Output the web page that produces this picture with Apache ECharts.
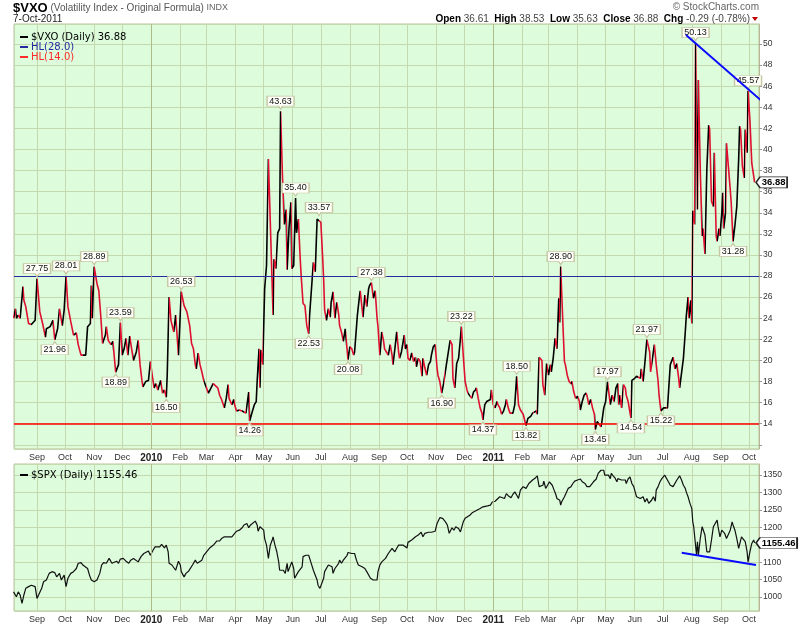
<!DOCTYPE html>
<html><head><meta charset="utf-8">
<script src="https://cdn.jsdelivr.net/npm/echarts@6/dist/echarts.min.js"></script>
<style>html,body{margin:0;padding:0;background:#fff}#c{width:800px;height:625px}</style>
</head><body><div id="c"></div>
<script>
// x values are days counted from 2009-09-01
const vxoDays = [-25,-23,-22,-20,-18,-15,-14,-12,-9,-6,-2,0,3,6,9,10,14,17,19,22,24,27,29,31,33,36,39,42,44,47,49,52,54,57,58,59,61,64,66,68,70,73,74,76,79,81,84,87,89,91,93,95,97,99,101,103,106,108,110,112,113,116,119,121,123,125,127,129,132,134,136,138,139,141,143,146,148,151,153,154,157,160,163,165,167,169,170,172,174,176,178,180,183,185,188,190,193,195,197,200,202,204,205,208,210,211,213,216,219,221,223,226,227,230,232,234,235,237,238,239,241,243,245,247,252,253,255,257,259,260,262,264,266,267,269,271,272,274,276,277,279,281,282,284,286,288,290,291,293,295,297,299,301,303,305,306,307,309,311,313,314,316,318,320,322,323,325,327,329,330,332,334,336,338,339,342,344,345,348,350,352,354,355,357,359,361,363,364,366,368,370,371,373,375,377,379,380,382,384,386,387,389,392,393,395,396,398,400,402,404,405,407,409,411,412,414,416,418,420,421,423,425,427,428,430,432,434,436,437,439,441,443,444,446,448,450,452,453,455,457,459,460,462,464,466,468,469,471,473,475,476,478,480,482,484,485,487,489,491,492,494,496,498,500,501,503,505,507,508,510,512,514,516,517,519,522,524,527,529,531,533,534,536,539,540,542,544,546,548,549,551,553,555,557,558,559,561,563,564,566,568,570,571,573,575,577,579,580,582,584,586,587,589,591,593,595,596,598,600,602,603,605,607,609,611,612,614,616,618,620,621,622,624,626,628,629,631,634,635,638,640,642,644,645,647,649,651,654,655,657,659,661,663,664,666,669,671,673,676,677,679,681,683,685,686,688,690,692,693,695,696,698,699,700,702,703,705,706,708,710,711,713,715,717,718,720,722,723,725,726,728,729,731,732,733,735,736,738,740,741,743,745,747,749,750,751,753,755,756,758,759,761,763,765,766];
const vxoVals = [24.0,24.9,24.0,24.3,24.0,27.0,25.7,25.1,23.5,23.4,23.8,27.75,24.6,23.5,22.2,23.0,23.2,23.8,21.96,23.0,24.9,23.3,24.8,28.01,25.1,23.7,22.4,22.6,21.5,20.5,20.4,20.5,23.2,23.5,27.1,24.0,28.89,27.3,26.6,24.3,21.6,22.4,23.2,21.9,21.5,21.8,18.89,19.6,23.59,20.5,21.1,22.1,20.5,22.3,21.1,20.0,20.8,21.9,19.6,18.1,17.5,18.0,18.1,19.9,18.6,17.4,17.8,17.2,18.1,16.9,17.2,16.50,18.6,26.0,23.8,22.7,24.3,20.5,20.6,26.53,25.2,24.6,23.3,21.6,21.1,19.6,19.2,20.7,19.6,18.9,18.1,18.1,16.9,17.0,17.8,17.7,17.4,16.7,16.3,15.5,16.4,17.7,16.4,15.8,16.3,15.8,15.2,15.3,15.2,15.3,15.0,17.0,14.26,15.2,15.8,16.1,18.0,21.1,17.4,21.0,19.6,26.8,29.0,39.1,24.3,29.6,28.7,32.1,32.5,43.63,37.5,32.9,34.3,28.6,32.5,35.0,28.7,29.0,35.40,32.1,33.4,29.6,28.0,25.4,25.2,23.3,22.53,24.3,26.8,29.3,28.4,33.4,33.57,33.1,29.6,27.7,24.8,23.8,24.9,24.1,25.5,26.5,24.0,25.5,24.4,23.3,22.7,21.8,23.0,23.1,20.08,21.3,21.1,20.5,20.8,24.3,25.9,26.6,24.1,26.2,25.1,26.8,27.1,27.38,25.9,26.6,24.0,23.2,20.5,22.7,21.8,21.1,20.8,20.5,21.5,20.5,19.6,21.1,22.7,20.8,20.2,20.8,22.4,21.1,21.5,20.2,20.0,20.7,19.9,20.3,19.4,20.2,19.9,18.5,20.2,19.3,18.6,19.6,19.9,20.5,21.3,21.5,19.3,18.6,18.0,16.90,17.8,17.7,19.6,19.7,21.9,21.5,18.3,17.4,19.7,20.2,22.1,23.22,20.5,18.0,17.2,16.9,17.0,16.4,17.0,17.2,17.4,16.4,15.5,15.0,14.37,15.8,16.1,16.1,16.3,17.2,15.8,15.5,16.1,15.8,15.5,14.9,15.2,15.8,16.3,15.5,15.0,14.9,15.0,15.8,18.50,15.8,15.3,15.2,14.9,13.82,14.5,14.7,15.0,14.9,15.2,14.9,20.3,20.0,17.7,16.7,19.7,18.6,19.6,18.9,20.2,22.1,21.1,25.9,23.6,28.90,24.3,19.9,19.6,18.6,18.0,17.8,18.0,17.0,16.4,16.6,16.1,15.3,16.1,16.7,16.9,16.7,15.8,16.3,15.5,14.9,13.45,14.2,14.2,13.7,14.2,15.5,16.1,17.97,17.8,15.8,16.7,16.1,17.4,17.8,15.8,16.7,15.5,17.7,17.4,16.7,16.1,14.54,18.1,18.3,18.5,18.6,18.3,19.2,18.0,19.9,21.97,20.8,18.9,18.8,21.5,19.6,18.0,16.7,15.22,15.5,15.6,15.5,19.6,19.7,20.3,19.2,19.7,18.3,17.4,17.5,20.2,22.7,24.1,26.0,24.0,25.7,23.5,34.2,32.9,50.13,34.3,46.6,38.1,31.8,32.5,30.1,38.1,42.3,41.9,35.1,34.6,39.7,31.8,31.3,32.5,31.8,34.0,35.9,32.5,34.0,40.6,38.4,36.2,35.0,31.28,32.8,34.6,39.1,42.2,41.9,38.4,37.3,41.9,39.7,45.57,42.8,38.7,37.5,36.88];

const spxDays = [-25,-22,-20,-18,-16,-14,-12,-9,-6,-2,0,2,5,7,10,13,16,19,21,24,26,29,31,33,36,39,42,44,47,49,51,54,56,58,61,64,67,69,71,74,77,80,82,85,87,89,92,95,98,100,103,105,108,111,114,116,119,121,124,126,128,131,133,136,138,140,141,144,146,148,151,153,154,157,159,162,164,166,169,171,173,176,178,181,184,186,189,192,195,197,200,203,205,208,210,213,216,219,221,224,226,228,230,233,235,236,238,240,242,243,245,247,249,251,252,254,256,258,259,261,263,265,267,268,270,272,274,275,277,279,281,283,284,287,290,292,295,297,299,300,302,304,306,307,309,311,313,315,316,318,320,322,323,325,327,329,331,332,334,336,338,339,341,343,345,347,348,350,352,354,356,357,359,361,363,364,366,368,370,372,373,375,377,379,380,382,384,386,388,391,395,396,400,404,407,410,412,414,418,421,425,427,430,433,436,438,440,443,445,447,450,452,453,455,457,459,462,465,468,470,473,476,478,481,484,486,489,491,494,496,499,501,503,506,508,510,512,514,516,519,522,525,527,529,532,534,536,538,540,541,543,545,547,548,550,552,554,555,558,559,560,563,565,567,570,572,574,577,580,582,585,587,590,592,594,597,599,602,605,606,608,610,612,613,615,617,619,620,622,624,626,628,629,631,633,635,637,638,640,642,644,645,647,649,651,653,654,656,658,660,661,663,665,667,669,670,672,674,676,677,679,681,683,685,686,688,690,692,693,695,697,699,700,701,703,704,705,706,708,710,711,713,715,717,718,720,722,724,726,727,729,731,733,734,736,738,740,742,743,745,747,749,750,752,754,756,758,759,761,763,765,766];
const spxVals = [1015,1001,1015,1006,982,1006,1025,1030,1034,1030,996,1001,1025,1044,1049,1068,1073,1070,1058,1068,1049,1063,1030,1054,1068,1073,1082,1097,1099,1092,1097,1082,1063,1049,1044,1049,1068,1092,1099,1097,1111,1097,1101,1103,1097,1109,1111,1103,1097,1106,1111,1116,1101,1116,1125,1125,1132,1120,1135,1144,1147,1144,1151,1141,1149,1130,1097,1092,1097,1077,1103,1092,1073,1058,1068,1075,1077,1092,1106,1097,1101,1106,1120,1130,1140,1144,1151,1161,1161,1168,1173,1173,1178,1173,1178,1189,1192,1199,1207,1211,1199,1207,1211,1218,1207,1189,1202,1197,1192,1168,1149,1111,1149,1163,1173,1149,1130,1101,1077,1073,1077,1068,1097,1073,1077,1101,1082,1054,1058,1073,1077,1087,1116,1120,1120,1103,1077,1082,1049,1034,1025,1030,1054,1073,1077,1092,1097,1087,1068,1082,1077,1097,1106,1097,1106,1111,1120,1128,1125,1125,1127,1125,1106,1092,1087,1087,1092,1082,1073,1068,1054,1052,1049,1054,1049,1073,1092,1101,1099,1111,1116,1125,1130,1140,1135,1130,1140,1149,1147,1149,1141,1157,1164,1173,1178,1186,1173,1183,1186,1186,1189,1211,1228,1226,1216,1207,1183,1199,1192,1202,1197,1187,1183,1216,1226,1226,1235,1243,1247,1243,1254,1259,1259,1262,1264,1273,1275,1273,1288,1293,1283,1297,1291,1285,1295,1302,1293,1283,1307,1317,1312,1326,1331,1336,1342,1348,1317,1312,1321,1333,1312,1321,1331,1326,1321,1307,1293,1283,1278,1264,1273,1288,1293,1312,1317,1326,1333,1336,1339,1331,1326,1317,1317,1312,1331,1339,1355,1364,1364,1350,1345,1350,1340,1355,1348,1342,1331,1340,1339,1336,1331,1336,1326,1339,1345,1326,1317,1307,1288,1285,1283,1278,1288,1273,1283,1269,1273,1278,1288,1275,1307,1317,1331,1340,1340,1350,1355,1331,1321,1317,1317,1312,1336,1340,1348,1336,1321,1312,1302,1288,1269,1254,1216,1202,1197,1121,1159,1121,1168,1202,1197,1178,1130,1125,1130,1164,1202,1207,1221,1202,1173,1192,1197,1183,1168,1168,1192,1216,1207,1192,1168,1140,1144,1173,1168,1159,1130,1101,1130,1154,1164,1155.46];

// annotated highs / lows (days) on the VXO line
const vxoPeakDays = [0,31,61,89,154,260,276,301,357,453,512,559,609,651,703,759];
const vxoTroughDays = [19,84,138,227,290,332,432,476,522,596,634,666,743];
// horizontal levels
const hlLevels = [28.0, 14.0];
// hand-drawn trend lines
const vxoTrendDays = [692.8, 773.6];
const vxoTrendVals = [50.85, 44.6];
const spxTrendDays = [688.2, 767.5];
const spxTrendVals = [1127, 1092];
// year boundaries (days)
const yearDays = [122, 487];
const monthNames = ['Jan','Feb','Mar','Apr','May','Jun','Jul','Aug','Sep','Oct','Nov','Dec'];
const quote = {open:'36.61', high:'38.53', low:'35.63', close:'36.88', chg:'-0.29 (-0.78%)'};
const xRangeDays = [-24.55, 770.7];

const DAY = 86400000;
const T0 = new Date(2009, 8, 1).getTime();
const toT = d => T0 + d * DAY;
const F = 'Liberation Sans';
const DF = 'DejaVu Sans';
const UP = '#000000', DOWN = '#dd1030';
const GRIDC = '#c4d9ad';
const HLBLUE = '#2828a0', HLRED = '#ff0000';

const vxoData = vxoDays.map((d, i) => [toT(d), vxoVals[i]]);
const spxData = spxDays.map((d, i) => [toT(d), spxVals[i]]);
const pieces = [];
for (let i = 0; i < vxoData.length - 1; i++) {
  pieces.push({ gte: vxoData[i][0], lt: vxoData[i + 1][0], color: vxoVals[i + 1] >= vxoVals[i] ? UP : DOWN });
}
const valAt = d => vxoVals[vxoDays.indexOf(d)];
const PEAK = 'path://M0,0H27V10H15.5L13.5,13L11.5,10H0Z';
const TROUGH = 'path://M0,3H11.5L13.5,0L15.5,3H27V13H0Z';
function callout(d, up) {
  const v = valAt(d);
  return {
    coord: [toT(d), v], symbol: up ? PEAK : TROUGH, symbolSize: [27, 13],
    symbolOffset: [0, up ? -8.5 : 8.5],
    itemStyle: { color: '#fffffa', borderColor: '#c6c6a2', borderWidth: 1 },
    label: { show: true, position: 'inside', formatter: v.toFixed(2), offset: [0, up ? -1.5 : 1.5], color: '#111', fontSize: 9, fontFamily: F }
  };
}
const lastV = vxoVals[vxoVals.length - 1], lastS = spxVals[spxVals.length - 1];
const lastBox = (t, v, w) => ({
  coord: [t, v], symbol: 'path://M0,5L4,0H' + w + 'V10H4Z', symbolSize: [w, 11],
  symbolOffset: [w / 2 + 1.5, 0],
  itemStyle: { color: '#ffffff', borderColor: '#222', borderWidth: 1 },
  label: { show: true, position: 'inside', formatter: v.toFixed(2), offset: [2, 0], color: '#000', fontSize: 9.5, fontWeight: 'bold', fontFamily: F }
});

const monthFmt = v => {
  const d = new Date(v);
  return d.getMonth() === 0 ? '{y|' + d.getFullYear() + '}' : monthNames[d.getMonth()];
};
const xAxisCommon = {
  type: 'time', min: toT(xRangeDays[0]), max: toT(xRangeDays[1]),
  minInterval: 31 * DAY, maxInterval: 31 * DAY, splitNumber: 26,
  axisLine: { show: false, onZero: false }, axisTick: { show: false },
  axisLabel: { formatter: monthFmt, showMinLabel: false, showMaxLabel: false, hideOverlap: false,
    color: '#333', fontSize: 9, fontFamily: F, margin: 4,
    rich: { y: { fontWeight: 'bold', fontSize: 10, fontFamily: F, color: '#222' } } },
  splitLine: { show: true, lineStyle: { color: GRIDC, width: 1 } }
};
const yAxisCommon = {
  type: 'value', position: 'right', scale: true,
  axisLine: { show: true, onZero: false, lineStyle: { color: '#b8b898' } },
  axisTick: { show: true, length: 3, lineStyle: { color: '#999' } },
  splitLine: { show: true, lineStyle: { color: GRIDC, width: 1 } }
};
const yearMarks = yearDays.map(d => ({ xAxis: toT(d), lineStyle: { color: '#adbb8b', width: 1, type: 'solid' } }));
const yearMarkLine = () => ({ silent: true, symbol: 'none', animation: false, label: { show: false }, data: yearMarks.map(m => Object.assign({}, m)) });
const hlMarkLine = (v, c, w) => ({ silent: true, symbol: 'none', animation: false, label: { show: false },
  lineStyle: { color: c, width: w, type: 'solid', opacity: 1 }, emphasis: { disabled: true },
  data: [{ yAxis: v, lineStyle: { color: c, width: w, type: 'solid' } }] });

const option = {
  animation: false,
  backgroundColor: '#ffffff',
  grid: [
    { left: 14, top: 24, width: 745, height: 425, show: true, backgroundColor: '#dcfcdc', borderColor: '#bfbf9c', borderWidth: 1 },
    { left: 14, top: 464, width: 745, height: 147, show: true, backgroundColor: '#dcfcdc', borderColor: '#bfbf9c', borderWidth: 1 }
  ],
  xAxis: [Object.assign({ gridIndex: 0 }, xAxisCommon), Object.assign({ gridIndex: 1 }, xAxisCommon)],
  yAxis: [
    Object.assign({}, yAxisCommon, { gridIndex: 0, min: 11.6, max: 51.9, splitNumber: 20,
      axisLabel: { formatter: v => (v >= 13 && Math.abs(v - Math.round(v)) < 1e-6) ? String(Math.round(v)) : '', showMinLabel: false, showMaxLabel: false, color: '#333', fontSize: 8.5, fontFamily: F, margin: 4 } }),
    Object.assign({}, yAxisCommon, { gridIndex: 1, min: 960, max: 1382, splitNumber: 8,
      axisLabel: { formatter: v => (Math.abs(v % 50) < 1e-6) ? String(v) : '', showMinLabel: false, showMaxLabel: false, color: '#333', fontSize: 8.5, fontFamily: F, margin: 4 } })
  ],
  visualMap: [{ type: 'piecewise', show: false, seriesIndex: [2], dimension: 0, pieces: pieces, outOfRange: { color: DOWN } }],
  legend: [
    { left: 15, top: 27, orient: 'vertical', itemGap: 0, itemWidth: 8, itemHeight: 2, icon: 'rect', selectedMode: false,
      textStyle: { fontSize: 10, fontFamily: DF, lineHeight: 10, padding: [0, 0, 0, -2] },
      formatter: n => n === '$VXO' ? '$VXO (Daily) ' + lastV.toFixed(2) : n,
      data: [
        { name: '$VXO', itemStyle: { color: '#000' }, textStyle: { color: '#000' } },
        { name: 'HL(28.0)', itemStyle: { color: HLBLUE }, textStyle: { color: HLBLUE } },
        { name: 'HL(14.0)', itemStyle: { color: '#ff2a2a' }, textStyle: { color: '#ff2a2a' } }
      ] },
    { left: 15, top: 465, orient: 'vertical', itemWidth: 8, itemHeight: 2, icon: 'rect', selectedMode: false,
      textStyle: { fontSize: 10, fontFamily: DF, lineHeight: 10, color: '#000', padding: [0, 0, 0, -2] },
      formatter: n => n + ' (Daily) ' + lastS.toFixed(2),
      data: [{ name: '$SPX', itemStyle: { color: '#000' } }] }
  ],
  graphic: [
    { type: 'text', x: 13, y: 8, style: { text: '{a|$VXO} {b|(Volatility Index - Original Formula)} {c|INDX}', verticalAlign: 'middle', fontSize: 10, fontFamily: F,
      rich: { a: { fontSize: 13, fontWeight: 'bold', fontFamily: F, fill: '#000' }, b: { fontSize: 10, fontFamily: F, fill: '#555' }, c: { fontSize: 9, fontFamily: F, fill: '#666' } } } },
    { type: 'text', x: 13, y: 19, style: { text: '7-Oct-2011', verticalAlign: 'middle', fontSize: 10, fontFamily: F, fill: '#222' } },
    { type: 'text', x: 759, y: 7, style: { text: '\u00a9 StockCharts.com', align: 'right', verticalAlign: 'middle', fontSize: 10, fontFamily: F, fill: '#666' } },
    { type: 'text', x: 750, y: 19, style: {
      text: '{l|Open} {v|' + quote.open + '}  {l|High} {v|' + quote.high + '}  {l|Low} {v|' + quote.low + '}  {l|Close} {v|' + quote.close + '}  {l|Chg} {v|' + quote.chg + '}',
      align: 'right', verticalAlign: 'middle', fontSize: 10, fontFamily: F,
      rich: { l: { fontWeight: 'bold', fontSize: 10, fontFamily: F, fill: '#000' }, v: { fontSize: 10, fontFamily: F, fill: '#444' } } } },
    { type: 'polygon', shape: { points: [[752, 17], [758, 17], [755, 21]] }, style: { fill: '#c00000' } }
  ],
  series: [
    { name: 'HL(28.0)', type: 'line', xAxisIndex: 0, yAxisIndex: 0, data: [], z: 5,
      itemStyle: { color: HLBLUE }, lineStyle: { color: HLBLUE, width: 1 },
      markLine: hlMarkLine(hlLevels[0], HLBLUE, 1) },
    { name: 'HL(14.0)', type: 'line', xAxisIndex: 0, yAxisIndex: 0, data: [], z: 5,
      itemStyle: { color: HLRED }, lineStyle: { color: HLRED, width: 1 },
      markLine: hlMarkLine(hlLevels[1], HLRED, 1.6) },
    { name: '$VXO', type: 'line', xAxisIndex: 0, yAxisIndex: 0, data: vxoData, z: 3,
      showSymbol: false, symbol: 'none', lineStyle: { width: 1.6 }, itemStyle: { color: '#000' },
      markLine: yearMarkLine(),
      markPoint: { silent: true, animation: false,
        data: [...vxoPeakDays.map(d => callout(d, true)), ...vxoTroughDays.map(d => callout(d, false)),
          lastBox(vxoData[vxoData.length - 1][0], lastV, 31)] } },
    { name: 'vxoTrend', type: 'line', xAxisIndex: 0, yAxisIndex: 0, z: 6, clip: false, showSymbol: false, symbol: 'none',
      data: vxoTrendDays.map((d, i) => [toT(d), vxoTrendVals[i]]), lineStyle: { color: '#0a0aff', width: 2 } },
    { name: '$SPX', type: 'line', xAxisIndex: 1, yAxisIndex: 1, data: spxData, z: 3,
      showSymbol: false, symbol: 'none', lineStyle: { width: 1.2, color: '#111' }, itemStyle: { color: '#000' },
      markLine: yearMarkLine(),
      markPoint: { silent: true, animation: false, data: [lastBox(spxData[spxData.length - 1][0], lastS, 41)] } },
    { name: 'spxTrend', type: 'line', xAxisIndex: 1, yAxisIndex: 1, z: 6, clip: false, showSymbol: false, symbol: 'none',
      data: spxTrendDays.map((d, i) => [toT(d), spxTrendVals[i]]), lineStyle: { color: '#0a0aff', width: 2 } }
  ]
};
const chart = echarts.init(document.getElementById('c'));
chart.setOption(option);
</script>
</body></html>
